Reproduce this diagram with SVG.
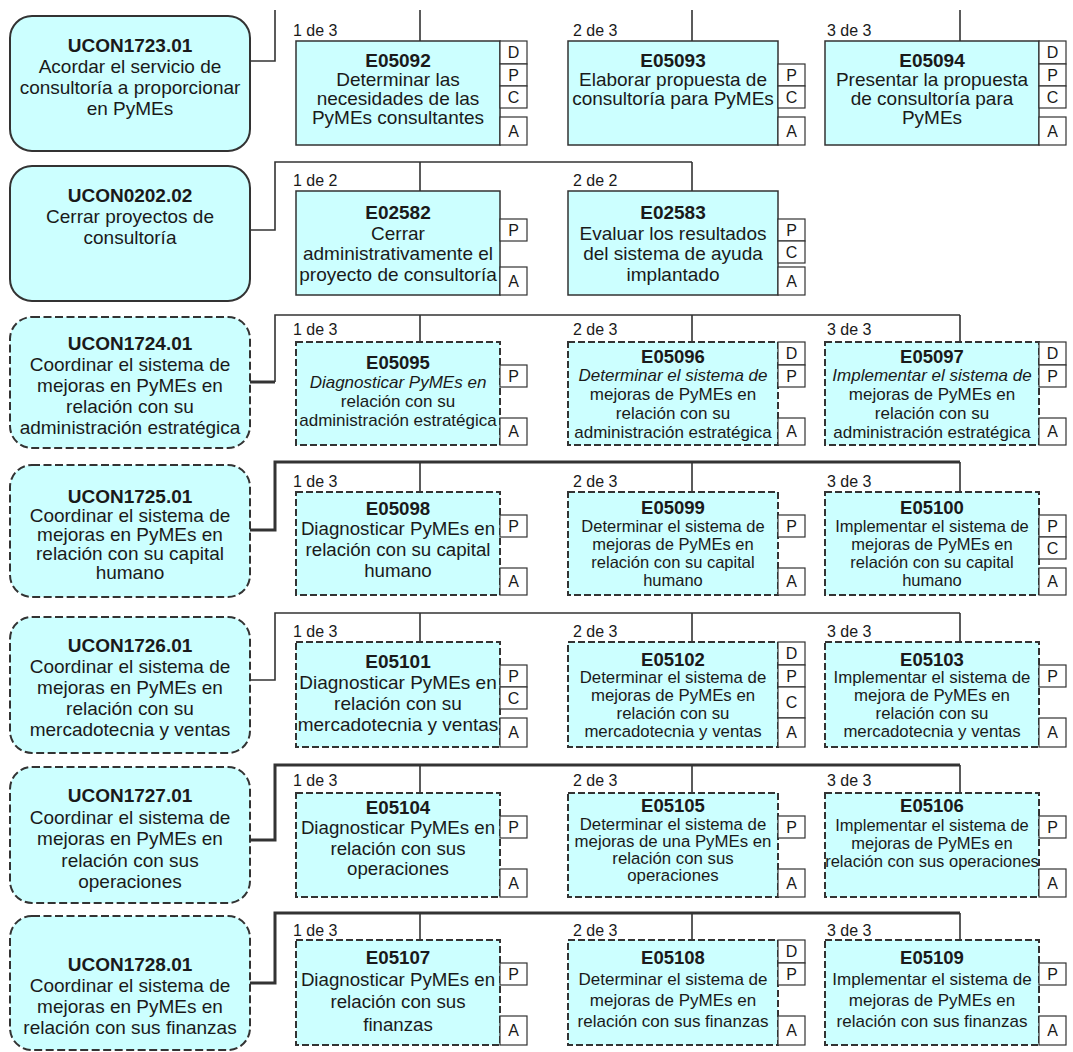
<svg xmlns="http://www.w3.org/2000/svg" width="1073" height="1052" viewBox="0 0 1073 1052">
<style>
.t{font-family:"Liberation Sans",Arial,sans-serif;fill:#1a1a1a;text-anchor:middle}
.h{font-weight:bold}
.i{font-style:italic}
.u{fill:#ccffff;stroke:#333;stroke-width:2}
.d{stroke-dasharray:8 3.5}
.b{fill:#ccffff;stroke:#333;stroke-width:1.5}
.bd{fill:#ccffff;stroke:#333;stroke-width:2;stroke-dasharray:7 3}
.k{fill:#fff;stroke:#333;stroke-width:1.2}
.kt{font-family:"Liberation Sans",Arial,sans-serif;font-size:16px;fill:#1a1a1a;text-anchor:middle}
.lb{font-family:"Liberation Sans",Arial,sans-serif;font-size:16px;fill:#1a1a1a}
.ln{fill:none;stroke:#333;stroke-width:1.6}
.lt{stroke-width:3}
</style>
<rect width="1073" height="1052" fill="#fff"/>
<g id="connectors">
<path class="ln" d="M250 61H275V10M420 10V41M692 10V41M960 10V41"/>
<path class="ln" d="M250 230H275V162H692M420 162V191M692 162V191"/>
<path class="ln lt" d="M250 382H275"/><path class="ln" d="M275 382V315H960M420 315V342M692 315V342M960 315V342"/>
<path class="ln lt" d="M250 530H275V462H960"/><path class="ln" d="M420 462V492M692 462V492M960 462V492"/>
<path class="ln" d="M250 680H275V613H960M420 613V642M692 613V642M960 613V642"/>
<path class="ln lt" d="M250 840H275V765H960"/><path class="ln" d="M420 765V793M692 765V793M960 765V793"/>
<path class="ln lt" d="M250 983H275V913H960"/><path class="ln" d="M420 913V940M692 913V940M960 913V940"/>
</g>
<g id="labels" class="lb">
<text x="293" y="36">1 de 3</text><text x="573" y="36">2 de 3</text><text x="827" y="36">3 de 3</text>
<text x="293" y="186">1 de 2</text><text x="573" y="186">2 de 2</text>
<text x="293" y="335">1 de 3</text><text x="573" y="335">2 de 3</text><text x="827" y="335">3 de 3</text>
<text x="293" y="487">1 de 3</text><text x="573" y="487">2 de 3</text><text x="827" y="487">3 de 3</text>
<text x="293" y="637">1 de 3</text><text x="573" y="637">2 de 3</text><text x="827" y="637">3 de 3</text>
<text x="293" y="786">1 de 3</text><text x="573" y="786">2 de 3</text><text x="827" y="786">3 de 3</text>
<text x="293" y="936">1 de 3</text><text x="573" y="936">2 de 3</text><text x="827" y="936">3 de 3</text>
</g>
<g id="UCON1723.01"><rect class="u" x="10" y="16" width="240" height="135" rx="22"/>
<text class="t" font-size="19"><tspan class="h" x="130" y="52">UCON1723.01</tspan><tspan x="130" y="73">Acordar el servicio de</tspan><tspan x="130" y="94">consultoría a proporcionar</tspan><tspan x="130" y="115">en PyMEs</tspan></text></g>
<g id="UCON0202.02"><rect class="u" x="10" y="166" width="240" height="135" rx="22"/>
<text class="t" font-size="19"><tspan class="h" x="130" y="202">UCON0202.02</tspan><tspan x="130" y="223">Cerrar proyectos de</tspan><tspan x="130" y="244">consultoría</tspan></text></g>
<g id="UCON1724.01"><rect class="u d" x="10" y="317" width="240" height="131" rx="22"/>
<text class="t" font-size="19"><tspan class="h" x="130" y="350">UCON1724.01</tspan><tspan x="130" y="371">Coordinar el sistema de</tspan><tspan x="130" y="392">mejoras en PyMEs en</tspan><tspan x="130" y="413">relación con su</tspan><tspan x="130" y="434">administración estratégica</tspan></text></g>
<g id="UCON1725.01"><rect class="u d" x="10" y="465" width="240" height="132" rx="22"/>
<text class="t" font-size="19"><tspan class="h" x="130" y="503">UCON1725.01</tspan><tspan x="130" y="522">Coordinar el sistema de</tspan><tspan x="130" y="541">mejoras en PyMEs en</tspan><tspan x="130" y="560">relación con su capital</tspan><tspan x="130" y="579">humano</tspan></text></g>
<g id="UCON1726.01"><rect class="u d" x="10" y="617" width="240" height="136" rx="22"/>
<text class="t" font-size="19"><tspan class="h" x="130" y="652">UCON1726.01</tspan><tspan x="130" y="673">Coordinar el sistema de</tspan><tspan x="130" y="694">mejoras en PyMEs en</tspan><tspan x="130" y="715">relación con su</tspan><tspan x="130" y="736">mercadotecnia y ventas</tspan></text></g>
<g id="UCON1727.01"><rect class="u d" x="10" y="767" width="240" height="136" rx="22"/>
<text class="t" font-size="19"><tspan class="h" x="130" y="802">UCON1727.01</tspan><tspan x="130" y="823.5">Coordinar el sistema de</tspan><tspan x="130" y="845">mejoras en PyMEs en</tspan><tspan x="130" y="866.5">relación con sus</tspan><tspan x="130" y="888">operaciones</tspan></text></g>
<g id="UCON1728.01"><rect class="u d" x="10" y="916" width="240" height="134" rx="22"/>
<text class="t" font-size="19"><tspan class="h" x="130" y="971">UCON1728.01</tspan><tspan x="130" y="992">Coordinar el sistema de</tspan><tspan x="130" y="1013">mejoras en PyMEs en</tspan><tspan x="130" y="1034">relación con sus  finanzas</tspan></text></g>

<g id="E05092"><rect class="b" x="296" y="41" width="204" height="104"/>
<text class="t" font-size="19"><tspan class="h" x="398" y="67">E05092</tspan><tspan x="398" y="86">Determinar las</tspan><tspan x="398" y="105">necesidades de las</tspan><tspan x="398" y="124">PyMEs consultantes</tspan></text>
<rect class="k" x="500" y="41" width="27" height="23"/><text class="kt" x="513.5" y="58">D</text>
<rect class="k" x="500" y="64" width="27" height="22"/><text class="kt" x="513.5" y="80.5">P</text>
<rect class="k" x="500" y="86" width="27" height="22"/><text class="kt" x="513.5" y="102.5">C</text>
<rect class="k" x="500" y="117" width="27" height="28"/><text class="kt" x="513.5" y="136.5">A</text></g>
<g id="E05093"><rect class="b" x="568" y="41" width="210" height="104"/>
<text class="t" font-size="19"><tspan class="h" x="673" y="67">E05093</tspan><tspan x="673" y="86">Elaborar propuesta de</tspan><tspan x="673" y="105">consultoría para PyMEs</tspan></text>
<rect class="k" x="778" y="64" width="27" height="22"/><text class="kt" x="791.5" y="80.5">P</text>
<rect class="k" x="778" y="86" width="27" height="22"/><text class="kt" x="791.5" y="102.5">C</text>
<rect class="k" x="778" y="117" width="27" height="28"/><text class="kt" x="791.5" y="136.5">A</text></g>
<g id="E05094"><rect class="b" x="825" y="41" width="214" height="104"/>
<text class="t" font-size="19"><tspan class="h" x="932" y="67">E05094</tspan><tspan x="932" y="86">Presentar la propuesta</tspan><tspan x="932" y="105">de consultoría para</tspan><tspan x="932" y="124">PyMEs</tspan></text>
<rect class="k" x="1039" y="41" width="27" height="23"/><text class="kt" x="1052.5" y="58">D</text>
<rect class="k" x="1039" y="64" width="27" height="22"/><text class="kt" x="1052.5" y="80.5">P</text>
<rect class="k" x="1039" y="86" width="27" height="22"/><text class="kt" x="1052.5" y="102.5">C</text>
<rect class="k" x="1039" y="117" width="27" height="28"/><text class="kt" x="1052.5" y="136.5">A</text></g>

<g id="E02582"><rect class="b" x="296" y="191" width="204" height="104"/>
<text class="t" font-size="19"><tspan class="h" x="398" y="219">E02582</tspan><tspan x="398" y="240">Cerrar</tspan><tspan x="398" y="260">administrativamente el</tspan><tspan x="398" y="281">proyecto de consultoría</tspan></text>
<rect class="k" x="500" y="219" width="27" height="22"/><text class="kt" x="513.5" y="235.5">P</text>
<rect class="k" x="500" y="267" width="27" height="28"/><text class="kt" x="513.5" y="286.5">A</text></g>
<g id="E02583"><rect class="b" x="568" y="191" width="210" height="104"/>
<text class="t" font-size="19"><tspan class="h" x="673" y="219">E02583</tspan><tspan x="673" y="240">Evaluar los resultados</tspan><tspan x="673" y="260">del sistema de ayuda</tspan><tspan x="673" y="281">implantado</tspan></text>
<rect class="k" x="778" y="219" width="27" height="22"/><text class="kt" x="791.5" y="235.5">P</text>
<rect class="k" x="778" y="241" width="27" height="22"/><text class="kt" x="791.5" y="257.5">C</text>
<rect class="k" x="778" y="267" width="27" height="28"/><text class="kt" x="791.5" y="286.5">A</text></g>

<g id="E05095"><rect class="bd" x="296" y="342" width="204" height="103"/>
<text class="t" font-size="17"><tspan class="h" x="398" y="369" font-size="18.5">E05095</tspan><tspan class="i" x="398" y="388">Diagnosticar PyMEs en</tspan><tspan x="398" y="407">relación con su</tspan><tspan x="398" y="426">administración estratégica</tspan></text>
<rect class="k" x="500" y="365" width="27" height="22"/><text class="kt" x="513.5" y="381.5">P</text>
<rect class="k" x="500" y="418" width="27" height="27"/><text class="kt" x="513.5" y="437">A</text></g>
<g id="E05096"><rect class="bd" x="568" y="342" width="210" height="103"/>
<text class="t" font-size="17"><tspan class="h" x="673" y="363" font-size="18.5">E05096</tspan><tspan class="i" x="673" y="381">Determinar el sistema de</tspan><tspan x="673" y="400">mejoras de PyMEs en</tspan><tspan x="673" y="419">relación con su</tspan><tspan x="673" y="438">administración estratégica</tspan></text>
<rect class="k" x="778" y="342" width="27" height="23"/><text class="kt" x="791.5" y="359">D</text>
<rect class="k" x="778" y="365" width="27" height="22"/><text class="kt" x="791.5" y="381.5">P</text>
<rect class="k" x="778" y="418" width="27" height="27"/><text class="kt" x="791.5" y="437">A</text></g>
<g id="E05097"><rect class="bd" x="825" y="342" width="214" height="103"/>
<text class="t" font-size="17"><tspan class="h" x="932" y="363" font-size="18.5">E05097</tspan><tspan class="i" x="932" y="381">Implementar el sistema de</tspan><tspan x="932" y="400">mejoras de PyMEs en</tspan><tspan x="932" y="419">relación con su</tspan><tspan x="932" y="438">administración estratégica</tspan></text>
<rect class="k" x="1039" y="342" width="27" height="23"/><text class="kt" x="1052.5" y="359">D</text>
<rect class="k" x="1039" y="365" width="27" height="22"/><text class="kt" x="1052.5" y="381.5">P</text>
<rect class="k" x="1039" y="418" width="27" height="27"/><text class="kt" x="1052.5" y="437">A</text></g>

<g id="E05098"><rect class="bd" x="296" y="492" width="204" height="103"/>
<text class="t" font-size="18.7"><tspan class="h" x="398" y="515">E05098</tspan><tspan x="398" y="535">Diagnosticar PyMEs en</tspan><tspan x="398" y="556">relación con su capital</tspan><tspan x="398" y="577">humano</tspan></text>
<rect class="k" x="500" y="515" width="27" height="22"/><text class="kt" x="513.5" y="531.5">P</text>
<rect class="k" x="500" y="568" width="27" height="27"/><text class="kt" x="513.5" y="587">A</text></g>
<g id="E05099"><rect class="bd" x="568" y="492" width="210" height="103"/>
<text class="t" font-size="16.5"><tspan class="h" x="673" y="514" font-size="18.5">E05099</tspan><tspan x="673" y="532">Determinar el sistema de</tspan><tspan x="673" y="550">mejoras de PyMEs en</tspan><tspan x="673" y="568">relación con su capital</tspan><tspan x="673" y="586">humano</tspan></text>
<rect class="k" x="778" y="515" width="27" height="22"/><text class="kt" x="791.5" y="531.5">P</text>
<rect class="k" x="778" y="568" width="27" height="27"/><text class="kt" x="791.5" y="587">A</text></g>
<g id="E05100"><rect class="bd" x="825" y="492" width="214" height="103"/>
<text class="t" font-size="16.5"><tspan class="h" x="932" y="514" font-size="18.5">E05100</tspan><tspan x="932" y="532">Implementar el sistema de</tspan><tspan x="932" y="550">mejoras de PyMEs en</tspan><tspan x="932" y="568">relación con su capital</tspan><tspan x="932" y="586">humano</tspan></text>
<rect class="k" x="1039" y="515" width="27" height="22"/><text class="kt" x="1052.5" y="531.5">P</text>
<rect class="k" x="1039" y="537" width="27" height="22"/><text class="kt" x="1052.5" y="553.5">C</text>
<rect class="k" x="1039" y="568" width="27" height="27"/><text class="kt" x="1052.5" y="587">A</text></g>

<g id="E05101"><rect class="bd" x="296" y="642" width="204" height="105"/>
<text class="t" font-size="19"><tspan class="h" x="398" y="668">E05101</tspan><tspan x="398" y="689">Diagnosticar PyMEs en</tspan><tspan x="398" y="710">relación con su</tspan><tspan x="398" y="731">mercadotecnia y ventas</tspan></text>
<rect class="k" x="500" y="665" width="27" height="22"/><text class="kt" x="513.5" y="681.5">P</text>
<rect class="k" x="500" y="687" width="27" height="22"/><text class="kt" x="513.5" y="703.5">C</text>
<rect class="k" x="500" y="718" width="27" height="29"/><text class="kt" x="513.5" y="738">A</text></g>
<g id="E05102"><rect class="bd" x="568" y="642" width="210" height="105"/>
<text class="t" font-size="16.8"><tspan class="h" x="673" y="666" font-size="18.5">E05102</tspan><tspan x="673" y="683">Determinar el sistema de</tspan><tspan x="673" y="701">mejoras de PyMEs en</tspan><tspan x="673" y="719">relación con su</tspan><tspan x="673" y="737">mercadotecnia y ventas</tspan></text>
<rect class="k" x="778" y="642" width="27" height="23"/><text class="kt" x="791.5" y="659">D</text>
<rect class="k" x="778" y="665" width="27" height="22"/><text class="kt" x="791.5" y="681.5">P</text>
<rect class="k" x="778" y="687" width="27" height="31"/><text class="kt" x="791.5" y="708">C</text>
<rect class="k" x="778" y="718" width="27" height="29"/><text class="kt" x="791.5" y="738">A</text></g>
<g id="E05103"><rect class="bd" x="825" y="642" width="214" height="105"/>
<text class="t" font-size="16.8"><tspan class="h" x="932" y="666" font-size="18.5">E05103</tspan><tspan x="932" y="683">Implementar el sistema de</tspan><tspan x="932" y="701">mejora de PyMEs en</tspan><tspan x="932" y="719">relación con su</tspan><tspan x="932" y="737">mercadotecnia y ventas</tspan></text>
<rect class="k" x="1039" y="665" width="27" height="22"/><text class="kt" x="1052.5" y="681.5">P</text>
<rect class="k" x="1039" y="718" width="27" height="29"/><text class="kt" x="1052.5" y="738">A</text></g>

<g id="E05104"><rect class="bd" x="296" y="793" width="204" height="104"/>
<text class="t" font-size="18.7"><tspan class="h" x="398" y="814">E05104</tspan><tspan x="398" y="834">Diagnosticar PyMEs en</tspan><tspan x="398" y="855">relación con sus</tspan><tspan x="398" y="875">operaciones</tspan></text>
<rect class="k" x="500" y="816" width="27" height="22"/><text class="kt" x="513.5" y="832.5">P</text>
<rect class="k" x="500" y="869" width="27" height="28"/><text class="kt" x="513.5" y="888.5">A</text></g>
<g id="E05105"><rect class="bd" x="568" y="793" width="210" height="104"/>
<text class="t" font-size="16.8"><tspan class="h" x="673" y="812" font-size="18.5">E05105</tspan><tspan x="673" y="830">Determinar el sistema de</tspan><tspan x="673" y="847">mejoras de una PyMEs en</tspan><tspan x="673" y="864">relación con sus</tspan><tspan x="673" y="881">operaciones</tspan></text>
<rect class="k" x="778" y="816" width="27" height="22"/><text class="kt" x="791.5" y="832.5">P</text>
<rect class="k" x="778" y="869" width="27" height="28"/><text class="kt" x="791.5" y="888.5">A</text></g>
<g id="E05106"><rect class="bd" x="825" y="793" width="214" height="104"/>
<text class="t" font-size="16.5"><tspan class="h" x="932" y="812" font-size="18.5">E05106</tspan><tspan x="932" y="831">Implementar el sistema de</tspan><tspan x="932" y="849">mejoras de PyMEs en</tspan><tspan x="932" y="867">relación con sus operaciones</tspan></text>
<rect class="k" x="1039" y="816" width="27" height="22"/><text class="kt" x="1052.5" y="832.5">P</text>
<rect class="k" x="1039" y="869" width="27" height="28"/><text class="kt" x="1052.5" y="888.5">A</text></g>

<g id="E05107"><rect class="bd" x="296" y="940" width="204" height="105"/>
<text class="t" font-size="18.7"><tspan class="h" x="398" y="964">E05107</tspan><tspan x="398" y="986">Diagnosticar PyMEs en</tspan><tspan x="398" y="1008">relación con sus</tspan><tspan x="398" y="1031">finanzas</tspan></text>
<rect class="k" x="500" y="963" width="27" height="22"/><text class="kt" x="513.5" y="979.5">P</text>
<rect class="k" x="500" y="1016" width="27" height="29"/><text class="kt" x="513.5" y="1036">A</text></g>
<g id="E05108"><rect class="bd" x="568" y="940" width="210" height="105"/>
<text class="t" font-size="17"><tspan class="h" x="673" y="964" font-size="18.5">E05108</tspan><tspan x="673" y="985">Determinar el sistema de</tspan><tspan x="673" y="1006">mejoras de PyMEs en</tspan><tspan x="673" y="1027">relación con sus finanzas</tspan></text>
<rect class="k" x="778" y="940" width="27" height="23"/><text class="kt" x="791.5" y="957">D</text>
<rect class="k" x="778" y="963" width="27" height="22"/><text class="kt" x="791.5" y="979.5">P</text>
<rect class="k" x="778" y="1016" width="27" height="29"/><text class="kt" x="791.5" y="1036">A</text></g>
<g id="E05109"><rect class="bd" x="825" y="940" width="214" height="105"/>
<text class="t" font-size="17"><tspan class="h" x="932" y="964" font-size="18.5">E05109</tspan><tspan x="932" y="985">Implementar el sistema de</tspan><tspan x="932" y="1006">mejoras de PyMEs en</tspan><tspan x="932" y="1027">relación con sus finanzas</tspan></text>
<rect class="k" x="1039" y="963" width="27" height="22"/><text class="kt" x="1052.5" y="979.5">P</text>
<rect class="k" x="1039" y="1016" width="27" height="29"/><text class="kt" x="1052.5" y="1036">A</text></g>
</svg>
